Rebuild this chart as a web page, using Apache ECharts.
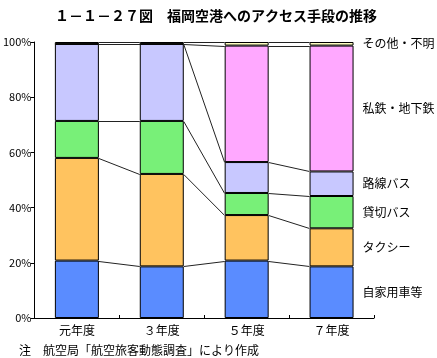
<!DOCTYPE html>
<html><head><meta charset="utf-8">
<script src="https://cdn.jsdelivr.net/npm/echarts@6/dist/echarts.min.js"></script>
<style>html,body{margin:0;padding:0;background:#fff}#c{width:437px;height:358px}</style>
</head><body><div id="c"></div>
<script>
var categories = ['元年度', '３年度', '５年度', '７年度'];
var seriesNames = ['自家用車等', 'タクシー', '貸切バス', '路線バス', '私鉄・地下鉄', 'その他・不明'];
var car = [20.8, 18.7, 20.8, 18.7];
var taxi = [37.2, 33.5, 16.5, 13.8];
var charterBus = [13.4, 19.2, 8.0, 11.7];
var routeBus = [27.9, 27.9, 11.2, 8.9];
var rail = [0, 0, 42.2, 45.6];
var other = [0.7, 0.7, 1.3, 1.3];
var yTicks = ['0%', '20%', '40%', '60%', '80%', '100%'];
var titleText = '１－１－２７図　福岡空港へのアクセス手段の推移';
var noteText = '注　航空局「航空旅客動態調査」により作成';

var values = [car, taxi, charterBus, routeBus, rail, other];
var colors = ['#5a8cff', '#ffc35f', '#78f078', '#c8c8ff', '#ffa8ff', '#ffffc0'];
var FONT = '"Noto Sans CJK JP", sans-serif';
var BW = 44;

var cum = categories.map(function (c, i) {
  var arr = [], s = 0;
  for (var k = 0; k < values.length; k++) { s += values[k][i]; arr.push(s); }
  return arr;
});

var barSeries = values.map(function (v, k) {
  return {
    type: 'bar', name: seriesNames[k], stack: 'a', barWidth: BW,
    itemStyle: { color: colors[k], borderColor: '#000', borderWidth: 1 },
    data: v.map(function (val, i) {
      var d = { value: val };
      if (i === v.length - 1) {
        d.label = { show: true, position: 'right', distance: 9, formatter: seriesNames[k],
          color: '#000', fontSize: 12, fontFamily: FONT };
      }
      return d;
    }),
    emphasis: { disabled: true },
    z: 2
  };
});

var lineData = [];
for (var i = 0; i < categories.length - 1; i++) {
  for (var k = 0; k < values.length; k++) {
    lineData.push([i, cum[i][k], cum[i + 1][k]]);
  }
}

var connSeries = {
  type: 'custom',
  data: lineData,
  z: 1,
  silent: true,
  renderItem: function (params, api) {
    var i = api.value(0);
    var p1 = api.coord([i, api.value(1)]);
    var p2 = api.coord([i + 1, api.value(2)]);
    return {
      type: 'line',
      shape: { x1: p1[0] + BW / 2, y1: Math.round(p1[1]) + 0.5, x2: p2[0] - BW / 2, y2: Math.round(p2[1]) + 0.5 },
      style: { stroke: '#222', lineWidth: 1 }
    };
  }
};

var chart = echarts.init(document.getElementById('c'));
chart.setOption({
  animation: false,
  title: [
    { text: titleText, left: 50, top: 4,
      textStyle: { fontSize: 14, fontWeight: 'bold', fontFamily: FONT, color: '#000' } },
    { text: noteText, left: 14, top: 339,
      textStyle: { fontSize: 12, fontWeight: 'normal', fontFamily: FONT, color: '#000' } }
  ],
  grid: { left: 30, right: 63, top: 42, bottom: 40 },
  xAxis: {
    type: 'category', data: categories,
    axisLine: { lineStyle: { color: '#000', width: 1 } },
    axisTick: { show: true, inside: true, length: 3, lineStyle: { color: '#000' } },
    axisLabel: { color: '#000', fontSize: 12, fontFamily: FONT, margin: 6 }
  },
  yAxis: {
    type: 'value', min: 0, max: 100, interval: 20,
    axisLine: { show: true, lineStyle: { color: '#000', width: 1 } },
    axisTick: { show: true, length: 4, lineStyle: { color: '#000' } },
    splitLine: { show: false },
    axisLabel: { color: '#000', fontSize: 11, fontFamily: FONT, margin: 3,
      formatter: function (v) { return yTicks[Math.round(v / 20)]; } }
  },
  series: barSeries.concat([connSeries])
});
</script></body></html>
